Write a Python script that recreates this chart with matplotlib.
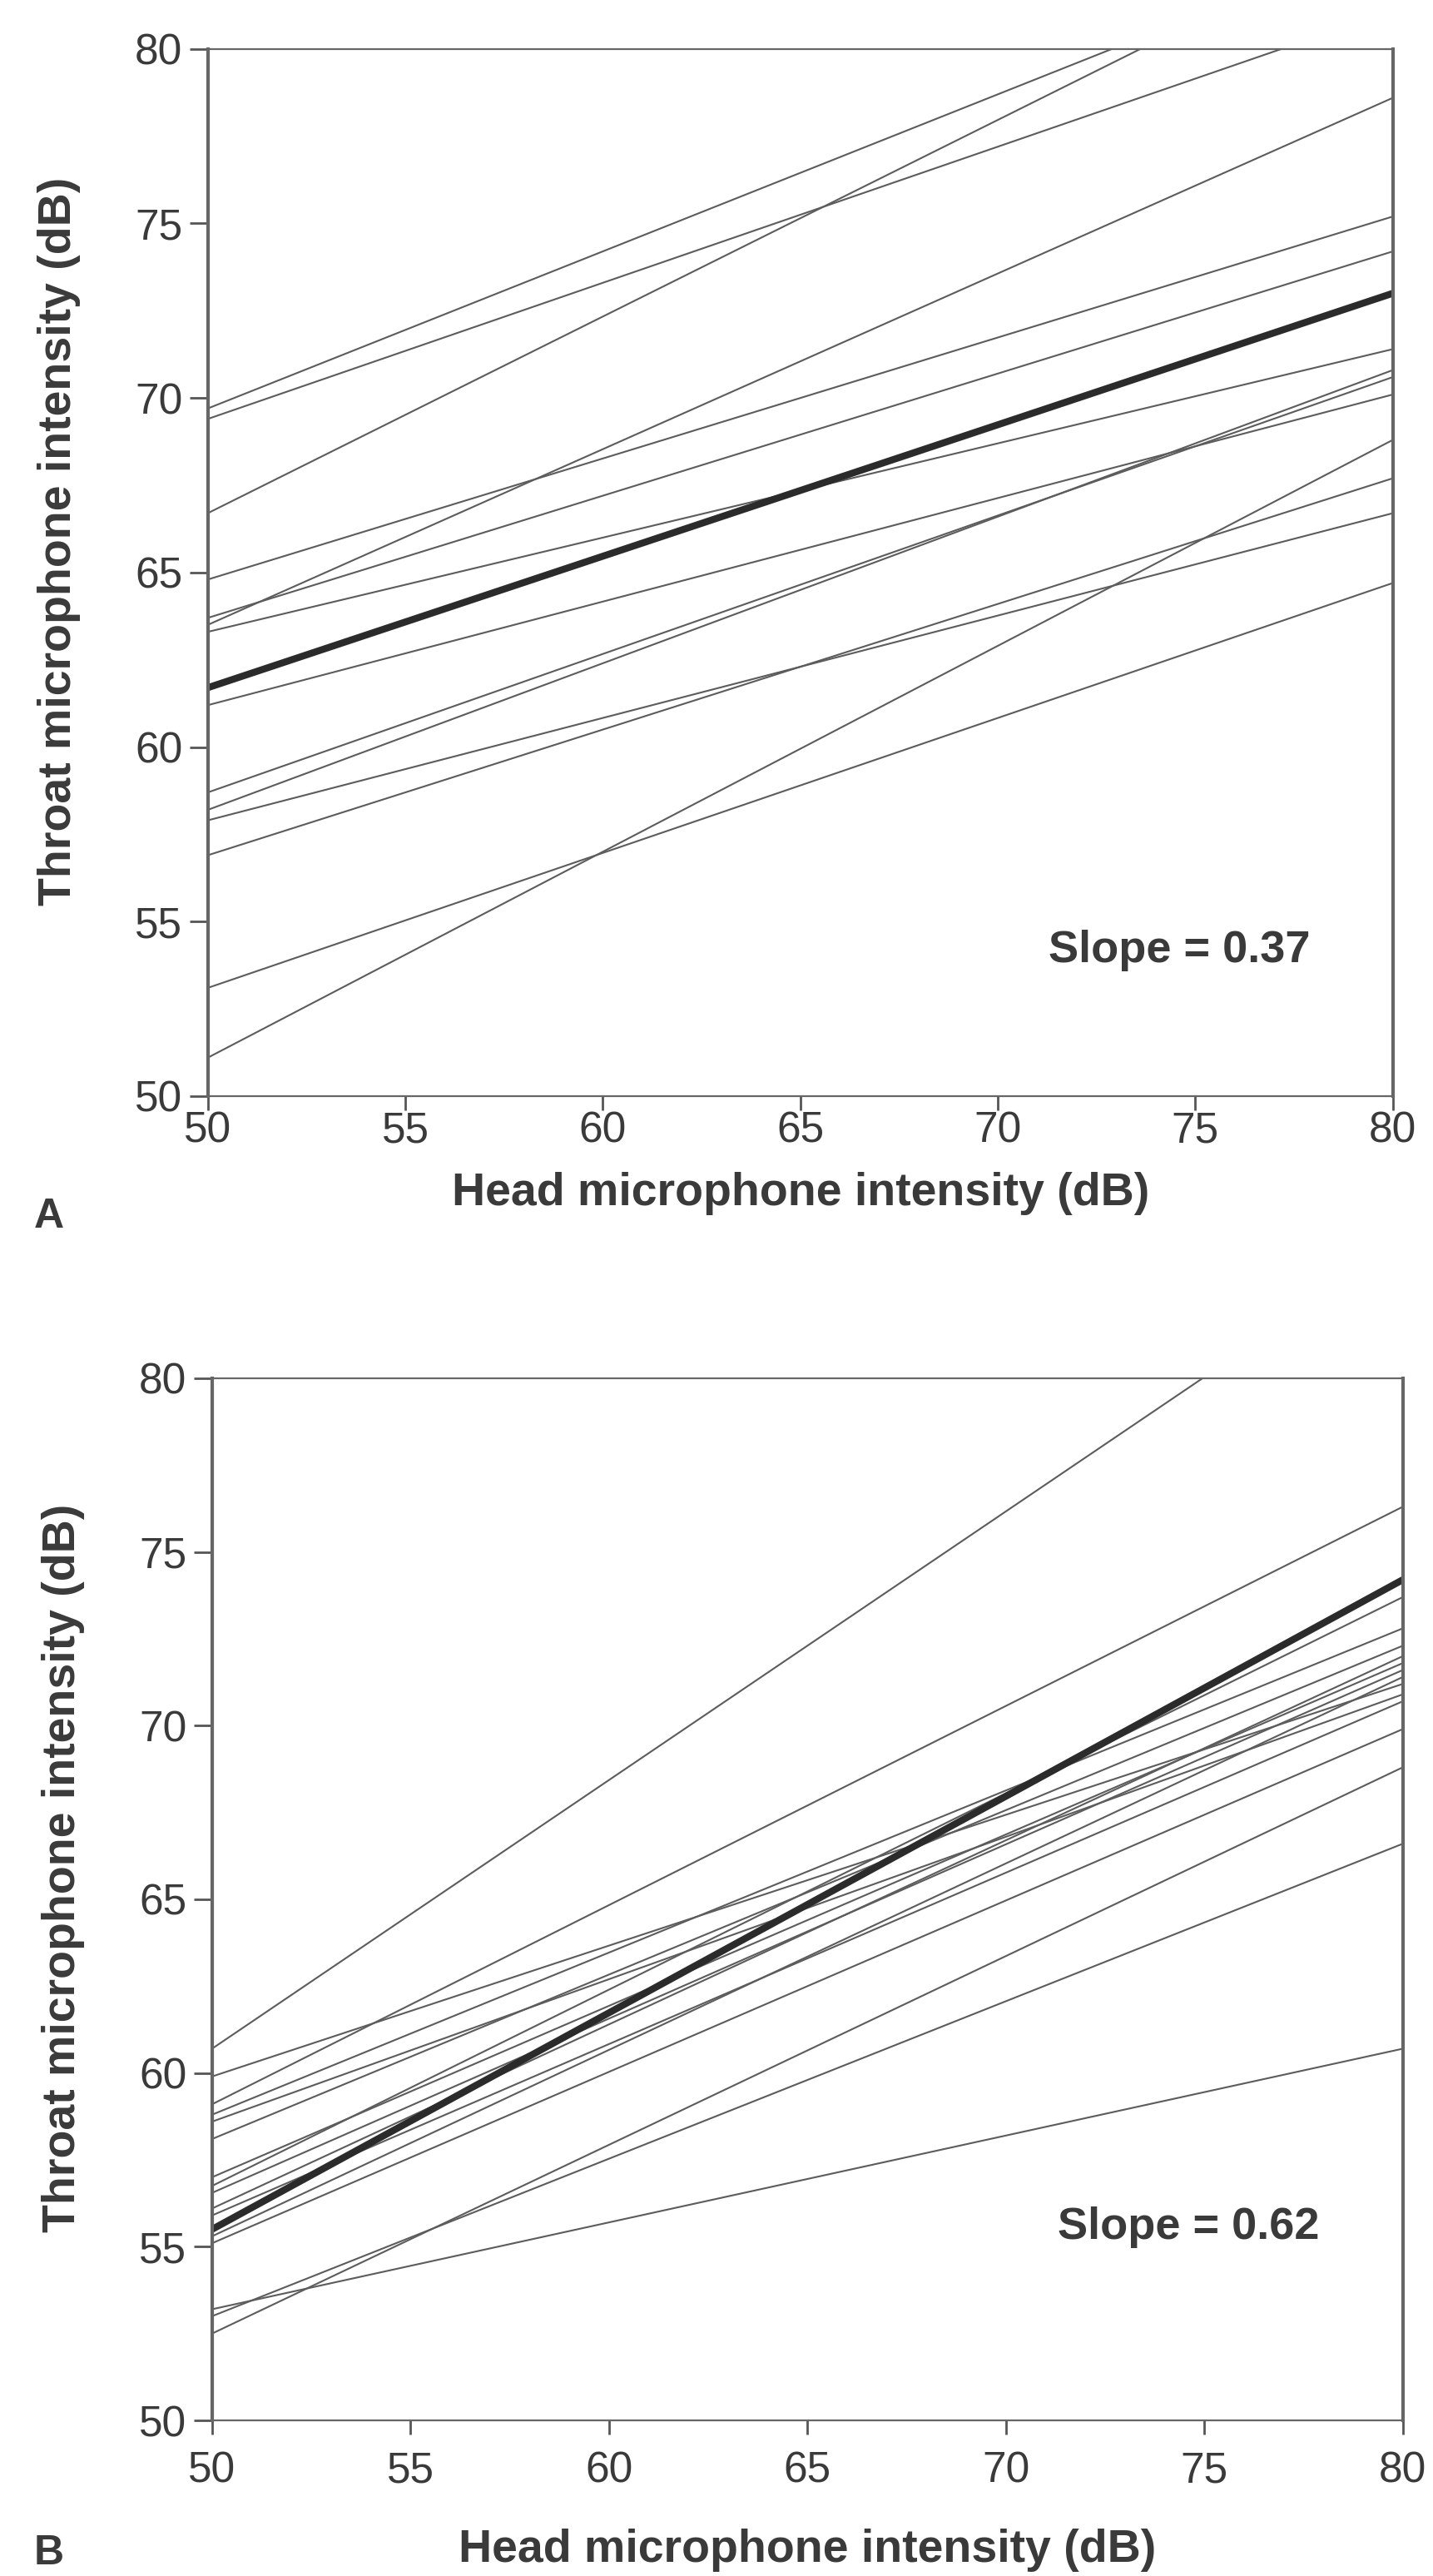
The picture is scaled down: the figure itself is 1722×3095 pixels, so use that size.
import numpy as np
import matplotlib.pyplot as plt

plt.rcParams['font.family'] = ['Liberation Sans', 'DejaVu Sans']

# regression lines per subject: throat intensity predicted at head = 50 dB and 80 dB
head_range = [50, 80]

a_start = [69.7, 69.4, 66.7, 64.8, 63.7, 63.5, 63.3, 61.2, 58.7, 58.2, 57.9, 56.9, 53.1, 51.1]
a_end = [83.2, 81.1, 83.6, 75.2, 74.2, 78.6, 71.4, 70.1, 70.6, 70.8, 66.7, 67.7, 64.7, 68.8]
a_mean = [61.7, 73.0]
a_slope = 'Slope = 0.37'

b_start = [60.7, 59.9, 59.1, 58.8, 58.6, 58.1, 57.0, 56.75, 56.55, 56.1, 55.9, 55.3, 55.1, 53.2, 53.0, 52.5]
b_end = [83.9, 71.2, 76.3, 72.8, 70.9, 72.3, 71.8, 73.7, 71.6, 72.0, 70.7, 71.4, 69.9, 60.7, 66.6, 68.8]
b_mean = [55.5, 74.2]
b_slope = 'Slope = 0.62'

ticks = [50, 55, 60, 65, 70, 75, 80]
TXT = '#3a3a3a'
LINE = '#5c5c5c'


def draw_panel(ax, starts, ends, mean, slope_txt, letter, xpad, xlab_y, slope_y, letter_xy):
    for s, e in zip(starts, ends):
        ax.plot(head_range, [s, e], color=LINE, lw=1.5, solid_capstyle='butt')
    ax.plot(head_range, mean, color='#2b2b2b', lw=6, solid_capstyle='butt')
    ax.set_xlim(50, 80)
    ax.set_ylim(50, 80)
    ax.set_xticks(ticks)
    ax.set_yticks(ticks)
    ax.tick_params(direction='out', width=2, colors='#555555',
                   labelsize=37, labelcolor=TXT)
    ax.tick_params(axis='x', length=12, pad=xpad)
    ax.tick_params(axis='y', length=16, pad=6)
    for sp in ax.spines.values():
        sp.set_color('#666666')
        sp.set_linewidth(1.6)
    ax.spines['left'].set_linewidth(3)
    ax.spines['right'].set_linewidth(3)
    ax.set_xlabel('Head microphone intensity (dB)', fontsize=40, fontweight='bold',
                  color=TXT)
    ax.set_ylabel('Throat microphone intensity (dB)', fontsize=40, fontweight='bold',
                  color=TXT)
    ax.xaxis.set_label_coords(0.5, xlab_y)
    ax.yaxis.set_label_coords(-0.107, 0.53)
    ax.text(0.82, slope_y, slope_txt, transform=ax.transAxes, fontsize=39,
            fontweight='bold', color=TXT, ha='center', va='center')
    ax.text(letter_xy[0], letter_xy[1], letter, transform=ax.transAxes, fontsize=36,
            fontweight='bold', color=TXT, ha='center', va='center')


fig = plt.figure(figsize=(17.22, 30.95), dpi=100)
ax1 = fig.add_axes([0.145, 0.5745, 0.827, 0.4065])
ax2 = fig.add_axes([0.148, 0.0604, 0.831, 0.4046])

draw_panel(ax1, a_start, a_end, a_mean, a_slope, 'A', 1, -0.072, 0.139, (-0.134, -0.115))
draw_panel(ax2, b_start, b_end, b_mean, b_slope, 'B', 14, -0.104, 0.185, (-0.137, -0.128))

fig.savefig('out.png', dpi=100, facecolor='white')
